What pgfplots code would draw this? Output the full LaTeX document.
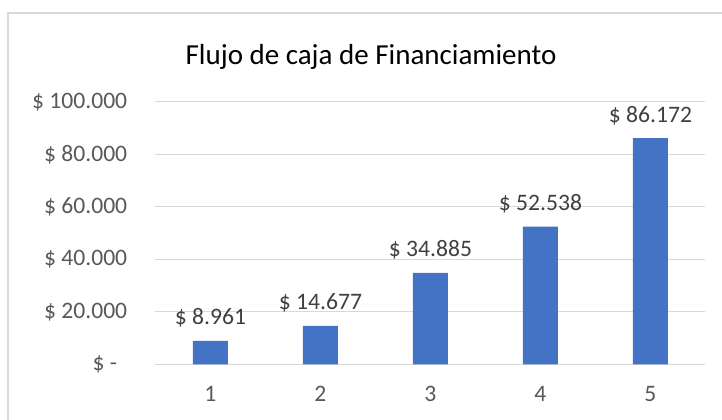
\documentclass[border=0pt]{standalone}
\usepackage{fontspec}
\setmainfont{Carlito}
\usepackage{pgfplots}
\pgfplotsset{compat=1.18}

\definecolor{barblue}{HTML}{4472C4}
\definecolor{gridgray}{HTML}{D9D9D9}
\definecolor{ticktext}{HTML}{595959}
\definecolor{labeltext}{HTML}{404040}

\begin{document}
\begin{tikzpicture}
% picture is 722x419 px, 1 px = 0.75pt
\clip (0,0) rectangle (541.5pt,314.25pt);
\draw[gridgray, line width=1.1pt] (6pt,-10pt) -- (6pt,304.5pt) -- (560pt,304.5pt);
\begin{axis}[
    at={(116.6pt,40.9pt)}, anchor=south west,
    scale only axis,
    width=412.5pt, height=196.9pt,
    ybar, bar width=26.25pt,
    xmin=0.5, xmax=5.5,
    ymin=0, ymax=100000,
    xtick={1,2,3,4,5},
    xticklabels={1,2,3,4,5},
    ytick={0,20000,40000,60000,80000,100000},
    yticklabels={\$ -\rule{7.5pt}{0pt},\$ 20.000,\$ 40.000,\$ 60.000,\$ 80.000,\$ 100.000},
    scaled y ticks=false,
    axis line style={draw=none},
    major tick length=0pt,
    ymajorgrids=true,
    grid style={gridgray, line width=0.8pt},
    tick label style={font=\fontsize{17.7}{20}\selectfont, text=ticktext},
    yticklabel style={anchor=east, inner sep=0pt, xshift=-21pt},
    xticklabel style={anchor=north, inner sep=0pt, yshift=-16pt},
    title={Flujo de caja de Financiamiento},
    title style={at={(0.392,1)}, anchor=base, yshift=22pt, inner sep=0pt,
        font=\fontsize{21.75}{24}\selectfont, text=black},
    nodes near coords={\$ \pgfmathprintnumber[fixed,precision=0,1000 sep={.},assume math mode=true]{\pgfplotspointmeta}},
    nodes near coords style={anchor=base, inner sep=0pt, yshift=12pt,
        font=\fontsize{17.7}{20}\selectfont, text=labeltext},
]
\addplot[fill=barblue, draw=none] coordinates {
    (1,8961) (2,14677) (3,34885) (4,52538) (5,86172)
};
\end{axis}
\end{tikzpicture}
\end{document}
